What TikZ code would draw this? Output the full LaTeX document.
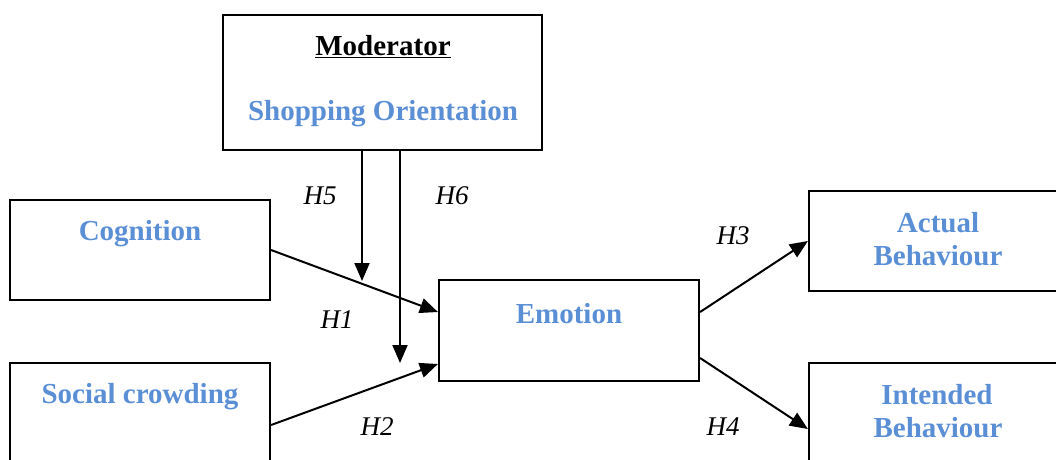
\documentclass[tikz,border=0pt]{standalone}
\usepackage{fontspec}
\setmainfont{Liberation Serif}
\usetikzlibrary{arrows.meta,calc}
\definecolor{varblue}{RGB}{91,143,213}
\begin{document}
\begin{tikzpicture}[x=1pt,y=-1pt,
  box/.style={draw,line width=2.2pt,rectangle,inner sep=0pt},
  var/.style={font=\fontsize{29}{33}\selectfont\bfseries,text=varblue,inner sep=0pt,align=center},
  hyp/.style={font=\fontsize{27}{30}\selectfont\itshape,inner sep=0pt},
  arr/.style={line width=2pt,-{Triangle[length=18pt,width=15pt]}}]
\useasboundingbox (0,0) rectangle (1056,459);
% boxes
\node[box,minimum width=319pt,minimum height=135pt] (mod) at (382.5,82.5) {};
\node[box,minimum width=260pt,minimum height=100pt] (cog) at (140,250) {};
\node[box,minimum width=260pt,minimum height=100pt] (soc) at (140,413) {};
\node[box,minimum width=260pt,minimum height=101pt] (emo) at (569,330.5) {};
\node[box,minimum width=270pt,minimum height=100pt] (act) at (944,241) {};
\node[box,minimum width=270pt,minimum height=100pt] (int) at (944,413) {};
% texts
\node[font=\fontsize{29}{33}\selectfont\bfseries,inner sep=0pt] (modt) at (383,47) {\underline{Moderator}};
\node[var] (shop) at (383,114) {Shopping Orientation};
\node[var] (cogt) at (140,234) {Cognition};
\node[var] (soct) at (140,397) {Social crowding};
\node[var] (emot) at (569,314) {Emotion};
\node[var] (actt) at (938,223) {Actual};
\node[var] (actb) at (938,256) {Behaviour};
\node[var] (intt) at (937,395) {Intended};
\node[var] (intb) at (938,428) {Behaviour};
% hypothesis labels
\node[hyp] (h5) at (320,196) {H5};
\node[hyp] (h6) at (452,196) {H6};
\node[hyp] (h1) at (337,320) {H1};
\node[hyp] (h2) at (377,427) {H2};
\node[hyp] (h3) at (733,236) {H3};
\node[hyp] (h4) at (723,427) {H4};
% connector end points
\coordinate (h5end) at (362,281);
\coordinate (h6end) at (400,363);
% arrows
\draw[arr] (cog.east) -- ([yshift=18.5pt]emo.west);
\draw[arr] ([yshift=-12pt]soc.east) -- ([yshift=-33.5pt]emo.west);
\draw[arr] ([yshift=18.5pt]emo.east) -- (act.west);
\draw[arr] ([yshift=-27.5pt]emo.east) -- ([yshift=-16pt]int.west);
\draw[arr] ([xshift=-20.5pt]mod.south) -- (h5end);
\draw[arr] ([xshift=17.5pt]mod.south) -- (h6end);
\end{tikzpicture}
\end{document}
